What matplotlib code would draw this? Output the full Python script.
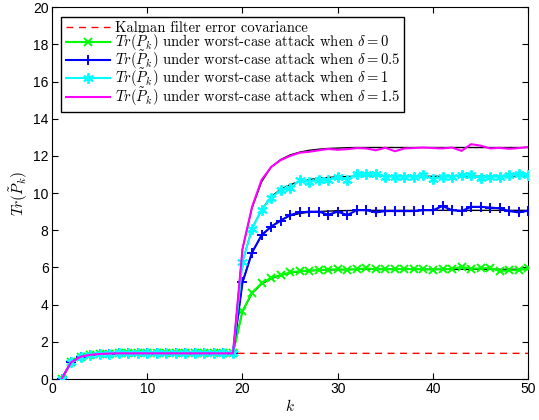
"""Trace of error covariance under worst-case attack, MATLAB-style figure"""
import matplotlib
matplotlib.use('Agg')
import matplotlib.pyplot as plt
import numpy as np

plt.rcParams['mathtext.fontset'] = 'cm'
plt.rcParams['font.family'] = ['Liberation Sans', 'DejaVu Sans']

# time steps
k = list(range(1, 51))

# common part before the attack starts (k = 1..19)
pre_attack = [0.0, 0.9, 1.2, 1.3, 1.35, 1.37, 1.38, 1.38, 1.38, 1.38,
              1.38, 1.38, 1.38, 1.38, 1.38, 1.38, 1.38, 1.38, 1.38]

kalman = [0.0, 0.9, 1.2, 1.3, 1.35, 1.37, 1.38, 1.38, 1.38, 1.38,
          1.38, 1.38, 1.38, 1.38, 1.38, 1.38, 1.38, 1.38, 1.38, 1.38,
          1.38, 1.38, 1.38, 1.38, 1.38, 1.38, 1.38, 1.38, 1.38, 1.38,
          1.38, 1.38, 1.38, 1.38, 1.38, 1.38, 1.38, 1.38, 1.38, 1.38,
          1.38, 1.38, 1.38, 1.38, 1.38, 1.38, 1.38, 1.38, 1.38, 1.38]

# simulated values, k = 20..50
sim_d0 = [3.65, 4.65, 5.15, 5.45, 5.58, 5.73, 5.8, 5.83, 5.86, 5.88,
          5.9, 5.88, 5.9, 5.95, 5.9, 5.9, 5.9, 5.92, 5.9, 5.9,
          5.88, 5.9, 5.92, 6.04, 5.93, 5.95, 5.97, 5.8, 5.85, 5.85, 5.95]
sim_d05 = [5.2, 6.8, 7.74, 8.19, 8.51, 8.82, 8.96, 9.0, 9.0, 8.84,
           9.0, 8.82, 9.08, 9.08, 8.96, 9.03, 9.03, 9.03, 9.03, 9.08,
           9.08, 9.3, 9.08, 9.03, 9.26, 9.26, 9.22, 9.18, 9.03, 8.96, 9.05]
sim_d1 = [6.3, 8.06, 9.1, 9.73, 10.16, 10.25, 10.7, 10.6, 10.69, 10.69,
          10.88, 10.73, 11.05, 11.0, 11.05, 10.88, 10.88, 10.88, 10.88, 10.95,
          10.75, 10.88, 10.88, 10.95, 10.95, 10.8, 10.88, 10.88, 10.95, 11.05, 10.95]
sim_d15 = [7.0, 9.26, 10.7, 11.4, 11.77, 12.0, 12.17, 12.22, 12.3, 12.37,
           12.33, 12.36, 12.42, 12.4, 12.3, 12.44, 12.25, 12.4, 12.42, 12.45,
           12.42, 12.4, 12.45, 12.27, 12.63, 12.55, 12.4, 12.43, 12.38, 12.42, 12.48]

# theoretical values (black curves), k = 20..50
th_d0 = [3.65, 4.6, 5.1, 5.4, 5.58, 5.7, 5.78, 5.82, 5.85, 5.87,
         5.88, 5.89, 5.9, 5.9, 5.9, 5.9, 5.9, 5.9, 5.9, 5.9,
         5.9, 5.9, 5.9, 5.9, 5.9, 5.9, 5.9, 5.9, 5.9, 5.9, 5.9]
th_d05 = [5.2, 6.8, 7.7, 8.2, 8.55, 8.78, 8.9, 8.97, 9.01, 9.03,
          9.05, 9.06, 9.07, 9.07, 9.07, 9.07, 9.07, 9.07, 9.07, 9.07,
          9.07, 9.07, 9.07, 9.07, 9.07, 9.07, 9.07, 9.07, 9.07, 9.07, 9.07]
th_d1 = [6.3, 8.1, 9.1, 9.8, 10.2, 10.45, 10.62, 10.72, 10.8, 10.84,
         10.87, 10.89, 10.9, 10.9, 10.9, 10.9, 10.9, 10.9, 10.9, 10.9,
         10.9, 10.9, 10.9, 10.9, 10.9, 10.9, 10.9, 10.9, 10.9, 10.9, 10.9]
th_d15 = [7.0, 9.2, 10.6, 11.4, 11.8, 12.05, 12.2, 12.3, 12.36, 12.4,
          12.42, 12.44, 12.45, 12.45, 12.45, 12.45, 12.45, 12.45, 12.45, 12.45,
          12.45, 12.45, 12.45, 12.45, 12.45, 12.45, 12.45, 12.45, 12.45, 12.45, 12.45]

deltas = ['0', '0.5', '1', '1.5']
sims = [sim_d0, sim_d05, sim_d1, sim_d15]
theory = [th_d0, th_d05, th_d1, th_d15]
colors = ['#00ff00', '#0000ff', '#00ffff', '#ff00ff']
markers = ['x', '+', (6, 2, 0), None]   # MATLAB-like x, +, asterisk
msizes = [6, 7, 7.5, 6]

fig = plt.figure(figsize=(5.39, 4.20), dpi=100)
ax = fig.add_axes([0.0965, 0.0976, 0.8835, 0.8854])

ax.plot(k, kalman, color='red', ls=(0, (5, 4)), lw=1.0, zorder=2,
        label='Kalman filter error covariance')
for th in theory:
    ax.plot(k, pre_attack + th, color='black', lw=1.0, zorder=2)
for d, s, c, m, ms in zip(deltas, sims, colors, markers, msizes):
    ax.plot(k, pre_attack + s, color=c, lw=1.5, marker=m, ms=ms, mew=1.4,
            zorder=3,
            label=r'$Tr(\tilde{P}_k)$ under worst-case attack when $\delta=%s$' % d)

ax.set_xlim(0, 50)
ax.set_ylim(0, 20)
ax.set_xticks(np.arange(0, 51, 10))
ax.set_yticks(np.arange(0, 21, 2))
ax.tick_params(direction='in', top=True, right=True, labelsize=10, length=4,
               pad=2.5)
for sp in ax.spines.values():
    sp.set_linewidth(0.8)
ax.set_xlabel(r'$k$', fontsize=11, labelpad=1)
ax.set_ylabel(r'$Tr(\tilde{P}_k)$', fontsize=11, labelpad=2)

leg = ax.legend(loc='upper left', numpoints=1, handlelength=3.0,
                prop={'family': 'cmr10', 'size': 10.5}, fancybox=False,
                framealpha=1, edgecolor='black', borderpad=0.3,
                labelspacing=-0.3, handletextpad=0.35,
                borderaxespad=0.65)
leg.get_frame().set_linewidth(1.0)

fig.savefig('out.png', dpi=100)
